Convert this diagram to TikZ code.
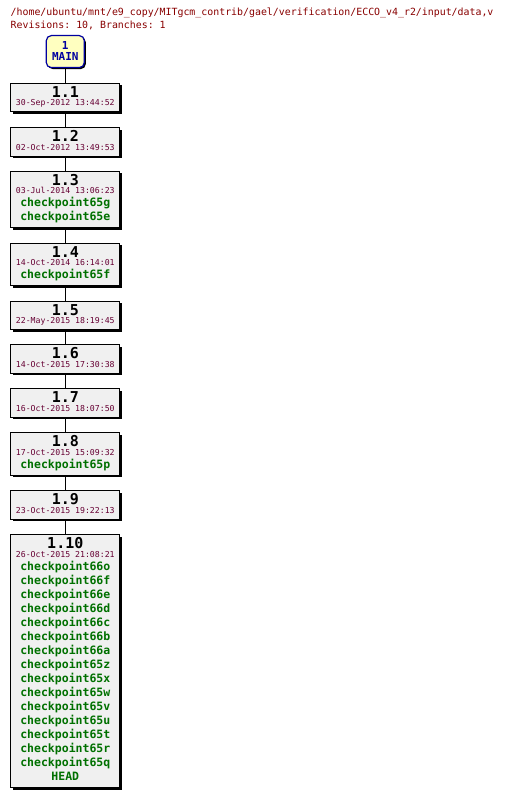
\documentclass[tikz,border=0pt]{standalone}
\usepackage{fontspec}
\setmonofont{DejaVu Sans Mono}
\usetikzlibrary{shadows}
\definecolor{titlered}{RGB}{136,0,0}
\definecolor{datered}{RGB}{102,0,51}
\definecolor{cpgreen}{RGB}{0,112,0}
\definecolor{mainblue}{RGB}{0,0,160}
\definecolor{mainfill}{RGB}{255,255,192}
\definecolor{boxfill}{RGB}{240,240,240}
\tikzset{
  revbox/.style={draw=black, line width=1pt, fill=boxfill, minimum width=109pt, inner sep=0pt,
    drop shadow={shadow xshift=2pt, shadow yshift=-2pt, fill=black, opacity=1}},
  mainbox/.style={draw=mainblue, line width=1.2pt, fill=mainfill, rounded corners=5pt,
    minimum width=38pt, minimum height=32pt, inner sep=0pt,
    drop shadow={shadow xshift=1.5pt, shadow yshift=-1.5pt, fill=black, opacity=1}},
  vertext/.style={font=\ttfamily\bfseries\fontsize{15}{15}\selectfont, inner sep=0pt},
  datetext/.style={font=\ttfamily\fontsize{8.2}{8.2}\selectfont, text=datered, inner sep=0pt},
  cptext/.style={font=\ttfamily\bfseries\fontsize{11.5}{11.5}\selectfont, text=cpgreen, inner sep=0pt},
  maintext/.style={font=\ttfamily\bfseries\fontsize{11}{11}\selectfont, text=mainblue, inner sep=0pt},
  titletext/.style={font=\ttfamily\fontsize{9.9}{9.9}\selectfont, text=titlered, inner sep=0pt},
  conn/.style={draw=black, line width=1pt},
}
\newcommand\revnode[6]{%
  \node[revbox, minimum height={28.5pt+14.05pt*#5}, anchor=north] (#1) at (65.3,#2) {};
  \node[vertext, anchor=base] (#1v) at (65.3,{#2+14.5}) {#3};
  \node[datetext, anchor=base] (#1d) at (65.3,{#2+23}) {#4};
  \ifnum#5>0
  \foreach \t [count=\i] in {#6} {
    \node[cptext, anchor=base] (#1c\i) at (65.3,{#2+36+14.05*(\i-1)}) {\t};
  }
  \fi
}
\begin{document}
\begin{tikzpicture}[x=1pt, y=-1pt]
\useasboundingbox (0,0) rectangle (506,797);
\node[titletext, anchor=base west] (title1) at (10.5,16) {/home/ubuntu/mnt/e9\_copy/MITgcm\_contrib/gael/verification/ECCO\_v4\_r2/input/data,v};
\node[titletext, anchor=base west] (title2) at (10.5,28.3) {Revisions: 10, Branches: 1};

\node[mainbox, anchor=north] (main) at (65.3,35) {};
\node[maintext, anchor=base] (mainv) at (65.3,49.3) {1};
\node[maintext, anchor=base] (mainn) at (65.3,60.7) {MAIN};

\revnode{r1}{83}{1.1}{30-Sep-2012 13:44:52}{0}{}
\revnode{r2}{127}{1.2}{02-Oct-2012 13:49:53}{0}{}
\revnode{r3}{170.7}{1.3}{03-Jul-2014 13:06:23}{2}{checkpoint65g,checkpoint65e}
\revnode{r4}{242.7}{1.4}{14-Oct-2014 16:14:01}{1}{checkpoint65f}
\revnode{r5}{300.7}{1.5}{22-May-2015 18:19:45}{0}{}
\revnode{r6}{344.3}{1.6}{14-Oct-2015 17:30:38}{0}{}
\revnode{r7}{388.3}{1.7}{16-Oct-2015 18:07:50}{0}{}
\revnode{r8}{432.3}{1.8}{17-Oct-2015 15:09:32}{1}{checkpoint65p}
\revnode{r9}{490}{1.9}{23-Oct-2015 19:22:13}{0}{}
\revnode{r10}{534}{1.10}{26-Oct-2015 21:08:21}{16}{checkpoint66o,checkpoint66f,checkpoint66e,checkpoint66d,checkpoint66c,checkpoint66b,checkpoint66a,checkpoint65z,checkpoint65x,checkpoint65w,checkpoint65v,checkpoint65u,checkpoint65t,checkpoint65r,checkpoint65q,HEAD}

\draw[conn] (main.south) -- (r1.north);
\draw[conn] (r1.south) -- (r2.north);
\draw[conn] (r2.south) -- (r3.north);
\draw[conn] (r3.south) -- (r4.north);
\draw[conn] (r4.south) -- (r5.north);
\draw[conn] (r5.south) -- (r6.north);
\draw[conn] (r6.south) -- (r7.north);
\draw[conn] (r7.south) -- (r8.north);
\draw[conn] (r8.south) -- (r9.north);
\draw[conn] (r9.south) -- (r10.north);
\end{tikzpicture}
\end{document}
